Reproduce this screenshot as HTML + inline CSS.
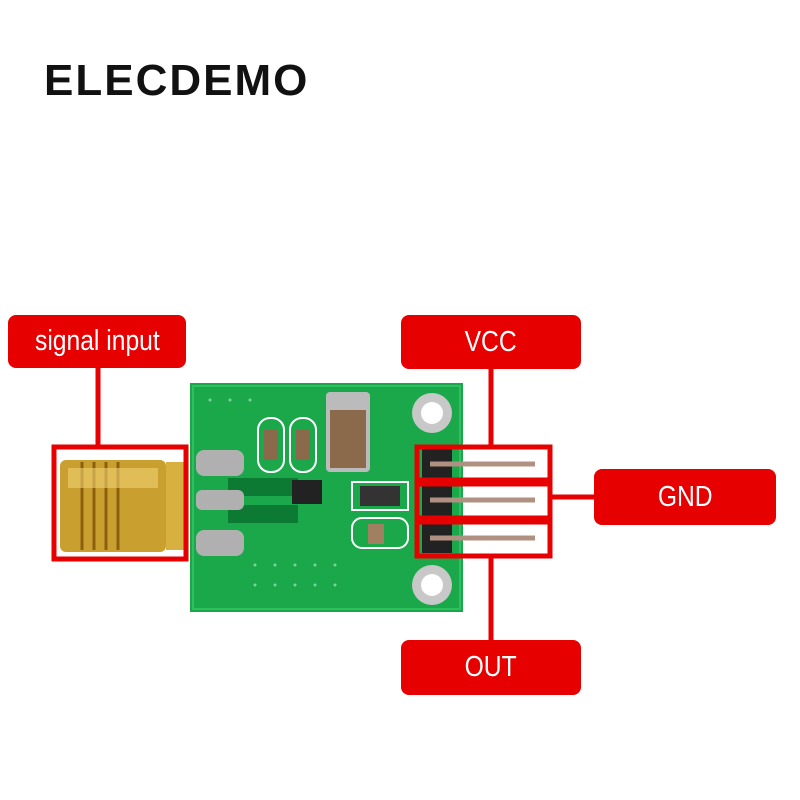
<!DOCTYPE html>
<html><head><style>
body{margin:0;width:800px;height:800px;background:#fff;position:relative;overflow:hidden;font-family:"Liberation Sans",sans-serif}
.t{position:absolute;left:44px;top:56px;font-size:44px;font-weight:bold;letter-spacing:2px;color:#111}
.lb{position:absolute;background:#e60000;border-radius:8px;color:#fff;font-size:29px;display:flex;align-items:center;justify-content:center}
.lb span{transform:scaleX(0.85);display:inline-block}
</style></head><body>
<div class="t">ELECDEMO</div>
<svg width="800" height="800" style="position:absolute;left:0;top:0">
<rect x="190" y="383" width="273" height="229" fill="#1aa84a"/>
<rect x="193" y="386" width="267" height="223" fill="none" stroke="#2cc060" stroke-width="2"/>
<g fill="#0d7a33">
<rect x="228" y="478" width="70" height="18"/><rect x="228" y="505" width="70" height="18"/>
</g>
<g fill="#7ad39a">
<circle cx="210" cy="400" r="1.5"/><circle cx="230" cy="400" r="1.5"/><circle cx="250" cy="400" r="1.5"/>
<circle cx="255" cy="565" r="1.5"/><circle cx="275" cy="565" r="1.5"/><circle cx="295" cy="565" r="1.5"/><circle cx="315" cy="565" r="1.5"/><circle cx="335" cy="565" r="1.5"/>
<circle cx="255" cy="585" r="1.5"/><circle cx="275" cy="585" r="1.5"/><circle cx="295" cy="585" r="1.5"/><circle cx="315" cy="585" r="1.5"/><circle cx="335" cy="585" r="1.5"/>
</g>
<circle cx="432" cy="413" r="20" fill="#c8c8c8"/><circle cx="432" cy="413" r="11" fill="#fff"/>
<circle cx="432" cy="585" r="20" fill="#c8c8c8"/><circle cx="432" cy="585" r="11" fill="#fff"/>
<rect x="258" y="418" width="26" height="54" rx="12" fill="none" stroke="#fff" stroke-width="2"/>
<rect x="290" y="418" width="26" height="54" rx="12" fill="none" stroke="#fff" stroke-width="2"/>
<rect x="264" y="430" width="14" height="30" fill="#8a6a4a"/><rect x="296" y="430" width="14" height="30" fill="#8a6a4a"/>
<rect x="326" y="392" width="44" height="80" rx="4" fill="#bbb"/><rect x="330" y="410" width="36" height="58" fill="#8a6a4a"/>
<rect x="352" y="482" width="56" height="28" fill="none" stroke="#fff" stroke-width="2"/><rect x="360" y="486" width="40" height="20" fill="#333"/>
<rect x="352" y="518" width="56" height="30" rx="10" fill="none" stroke="#fff" stroke-width="2"/><rect x="368" y="524" width="16" height="20" fill="#a08060"/>
<rect x="292" y="480" width="30" height="24" fill="#222"/>
<rect x="196" y="450" width="48" height="26" rx="8" fill="#b0b0b0"/>
<rect x="196" y="490" width="48" height="20" rx="6" fill="#b0b0b0"/>
<rect x="196" y="530" width="48" height="26" rx="8" fill="#b0b0b0"/>
<rect x="60" y="460" width="106" height="92" rx="6" fill="#c9a030"/>
<g stroke="#8a6010" stroke-width="3"><line x1="82" y1="462" x2="82" y2="550"/><line x1="94" y1="462" x2="94" y2="550"/><line x1="106" y1="462" x2="106" y2="550"/><line x1="118" y1="462" x2="118" y2="550"/></g>
<rect x="68" y="468" width="90" height="20" fill="#f0d070" opacity="0.6"/>
<rect x="166" y="462" width="20" height="88" fill="#d8b040"/>
<rect x="422" y="448" width="30" height="105" fill="#222"/>
<g stroke="#b09080" stroke-width="5"><line x1="430" y1="464" x2="535" y2="464"/><line x1="430" y1="500" x2="535" y2="500"/><line x1="430" y1="538" x2="535" y2="538"/></g>
<g fill="none" stroke="#e60000" stroke-width="5">
<rect x="54" y="447" width="132" height="112"/>
<rect x="417" y="447" width="133" height="33"/>
<rect x="417" y="484" width="133" height="34"/>
<rect x="417" y="522" width="133" height="34"/>
</g>
<g stroke="#e60000" stroke-width="5">
<line x1="98" y1="366" x2="98" y2="447"/>
<line x1="491" y1="366" x2="491" y2="447"/>
<line x1="550" y1="497" x2="596" y2="497"/>
<line x1="491" y1="556" x2="491" y2="642"/>
</g>
</svg>
<div class="lb" style="left:8px;top:315px;width:178px;height:53px"><span>signal input</span></div>
<div class="lb" style="left:401px;top:315px;width:180px;height:54px"><span>VCC</span></div>
<div class="lb" style="left:594px;top:469px;width:182px;height:56px"><span>GND</span></div>
<div class="lb" style="left:401px;top:640px;width:180px;height:55px"><span>OUT</span></div>
</body></html>
